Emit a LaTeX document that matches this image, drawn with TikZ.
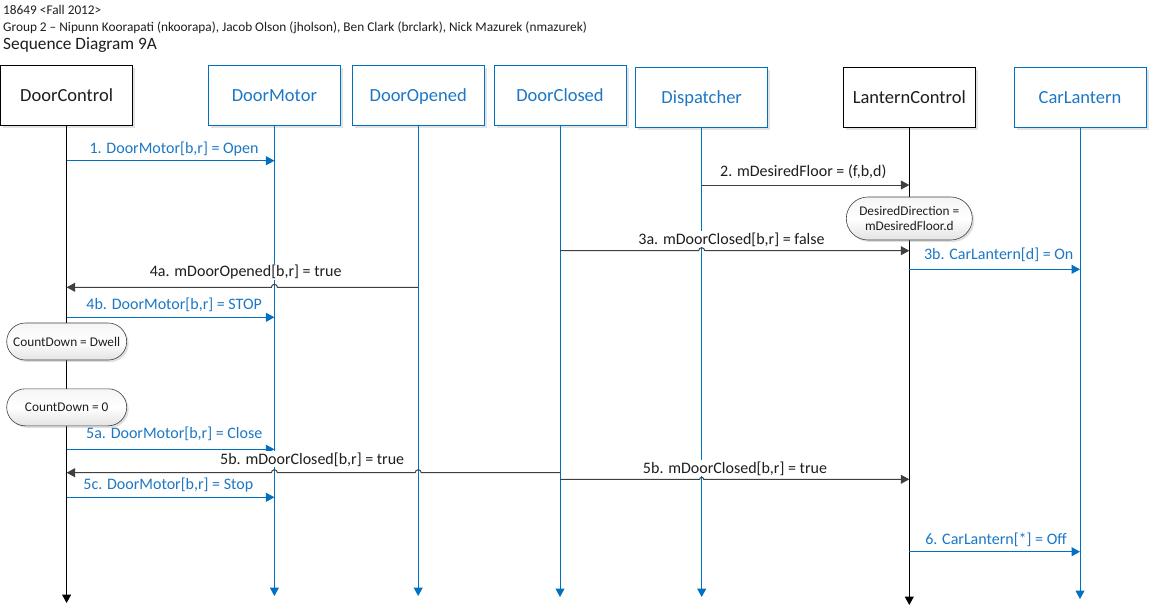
\documentclass[tikz,border=0pt]{standalone}
\usepackage{fontspec}
\setmainfont{Carlito}
\usetikzlibrary{arrows.meta,shapes.misc,shadows,calc}
\definecolor{mblue}{RGB}{0,112,192}
\definecolor{tblue}{RGB}{28,120,198}
\definecolor{mgray}{RGB}{64,64,64}
\definecolor{tblack}{RGB}{30,30,30}
\tikzset{
  obj/.style={draw, fill=white, minimum width=132pt, minimum height=60pt, inner sep=0pt,
    text height=13pt, text depth=0pt,
    font=\fontsize{18.5}{20}\selectfont, line width=0.9pt,
    drop shadow={shadow xshift=2.5pt, shadow yshift=-2.5pt, opacity=0.22}},
  bobj/.style={obj, draw=black, text=tblack},
  uobj/.style={obj, draw=mblue, text=tblue},
  tipx/.style={-{Triangle[length=8.5pt,width=9pt]}},
  bline/.style={draw=black, line width=1pt, tipx},
  uline/.style={draw=mblue, line width=1pt, tipx},
  bmsg/.style={draw=mgray, line width=1pt, tipx},
  umsg/.style={draw=mblue, line width=1pt, tipx},
  lab/.style={fill=white, inner sep=1pt, anchor=base, font=\fontsize{16}{18}\selectfont},
  blab/.style={lab, text=tblack},
  ulab/.style={lab, text=tblue},
  state/.style={rounded rectangle, draw=black!75, line width=0.6pt,
    top color=gray!8, bottom color=gray!22, middle color=white,
    font=\fontsize{13.3}{15.7}\selectfont, text=tblack, inner sep=0pt, align=center,
    drop shadow={shadow xshift=2pt, shadow yshift=-2pt, opacity=0.25}},
  hdr/.style={anchor=base west, inner sep=0pt, text=tblack}
}
\begin{document}
\begin{tikzpicture}[x=1pt,y=-1pt]
\useasboundingbox (0,0) rectangle (1149,606);

% header
\node[hdr, font=\fontsize{13.3}{15}\selectfont] (h1) at (3,14.5) {18649 <Fall 2012>};
\node[hdr, font=\fontsize{13.3}{15}\selectfont] (h2) at (3,31) {Group 2 – Nipunn Koorapati (nkoorapa), Jacob Olson (jholson), Ben Clark (brclark), Nick Mazurek (nmazurek)};
\node[hdr, font=\fontsize{17.3}{19}\selectfont] (h3) at (3,49) {Sequence Diagram 9A};

% objects
\node[bobj] (DC)   at (66.6,95)   {DoorControl};
\node[uobj] (DM)   at (274.4,95)  {DoorMotor};
\node[uobj] (DO)   at (418.2,95)  {DoorOpened};
\node[uobj] (DCl)  at (560,95)    {DoorClosed};
\node[uobj] (Disp) at (701.7,97)  {Dispatcher};
\node[bobj] (LC)   at (909.3,97)  {LanternControl};
\node[uobj] (CL)   at (1080,97)   {CarLantern};

% lifeline ends
\coordinate (DCe)   at (DC.south |- 0,603);
\coordinate (DMe)   at (DM.south |- 0,596);
\coordinate (DOe)   at (DO.south |- 0,596);
\coordinate (DCle)  at (DCl.south |- 0,597);
\coordinate (Dispe) at (Disp.south |- 0,597);
\coordinate (LCe)   at (LC.south |- 0,605);
\coordinate (CLe)   at (CL.south |- 0,599);

\draw[bline] (DC.south) -- (DCe);
\draw[uline] (DM.south) -- (DMe);
\draw[uline] (DO.south) -- (DOe);
\draw[uline] (DCl.south) -- (DCle);
\draw[uline] (Disp.south) -- (Dispe);
\draw[bline] (LC.south) -- (LCe);
\draw[uline] (CL.south) -- (CLe);

% 1
\draw[umsg] (DC.south |- 0,160.7) -- (DM.south |- 0,160.7);
\node[ulab] (l1) at (174,153.3) {1. DoorMotor[b,r] = Open};
% 2
\draw[bmsg] (Disp.south |- 0,185) -- (LC.south |- 0,185);
\node[blab] (l2) at (803.3,176.3) {2. mDesiredFloor = (f,b,d)};
% 3a
\draw[bmsg] (DCl.south |- 0,250.7) -- ($(Disp.south |- 0,250.7)+(-3,0)$)
  arc[start angle=180,end angle=0,radius=3pt] -- (LC.south |- 0,250.7);
\node[blab] (l3a) at (731.5,244) {3a. mDoorClosed[b,r] = false};
% 3b
\draw[umsg] (LC.south |- 0,269.3) -- (CL.south |- 0,269.3);
\node[ulab] (l3b) at (998.7,259) {3b. CarLantern[d] = On};
% 4a
\draw[bmsg] (DO.south |- 0,287.3) -- ($(DM.south |- 0,287.3)+(3,0)$)
  arc[start angle=0,end angle=180,radius=3pt] -- (DC.south |- 0,287.3);
\node[blab] (l4a) at (245.7,276.3) {4a. mDoorOpened[b,r] = true};
% 4b
\draw[umsg] (DC.south |- 0,317.3) -- (DM.south |- 0,317.3);
\node[ulab] (l4b) at (174.2,309) {4b. DoorMotor[b,r] = STOP};
% 5a
\draw[umsg] (DC.south |- 0,449.3) -- (DM.south |- 0,449.3);
\node[ulab] (l5a) at (174.2,438) {5a. DoorMotor[b,r] = Close};
% 5b left
\draw[bmsg] (DCl.south |- 0,472.7) -- ($(DO.south |- 0,472.7)+(3,0)$)
  arc[start angle=0,end angle=180,radius=3pt] -- ($(DM.south |- 0,472.7)+(3,0)$)
  arc[start angle=0,end angle=180,radius=3pt] -- (DC.south |- 0,472.7);
\node[blab] (l5b) at (312.2,464) {5b. mDoorClosed[b,r] = true};
% 5b right
\draw[bmsg] (DCl.south |- 0,479.3) -- ($(Disp.south |- 0,479.3)+(-2,0)$)
  arc[start angle=180,end angle=0,radius=2pt] -- (LC.south |- 0,479.3);
\node[blab] (l5bb) at (735,473) {5b. mDoorClosed[b,r] = true};
% 5c
\draw[umsg] (DC.south |- 0,497.3) -- (DM.south |- 0,497.3);
\node[ulab] (l5c) at (168.3,489.7) {5c. DoorMotor[b,r] = Stop};
% 6
\draw[umsg] (LC.south |- 0,551.7) -- (CL.south |- 0,551.7);
\node[ulab] (l6) at (996,544) {6. CarLantern[*] = Off};

% states
\node[state, minimum width=126pt, minimum height=43pt] (sDD) at (909.3,218.5) {DesiredDirection =\\mDesiredFloor.d};
\node[state, minimum width=120pt, minimum height=37pt] (sCD1) at (66.7,341.5) {CountDown = Dwell};
\node[state, minimum width=120pt, minimum height=37pt] (sCD0) at (66.7,407.3) {CountDown = 0};
\end{tikzpicture}
\end{document}
